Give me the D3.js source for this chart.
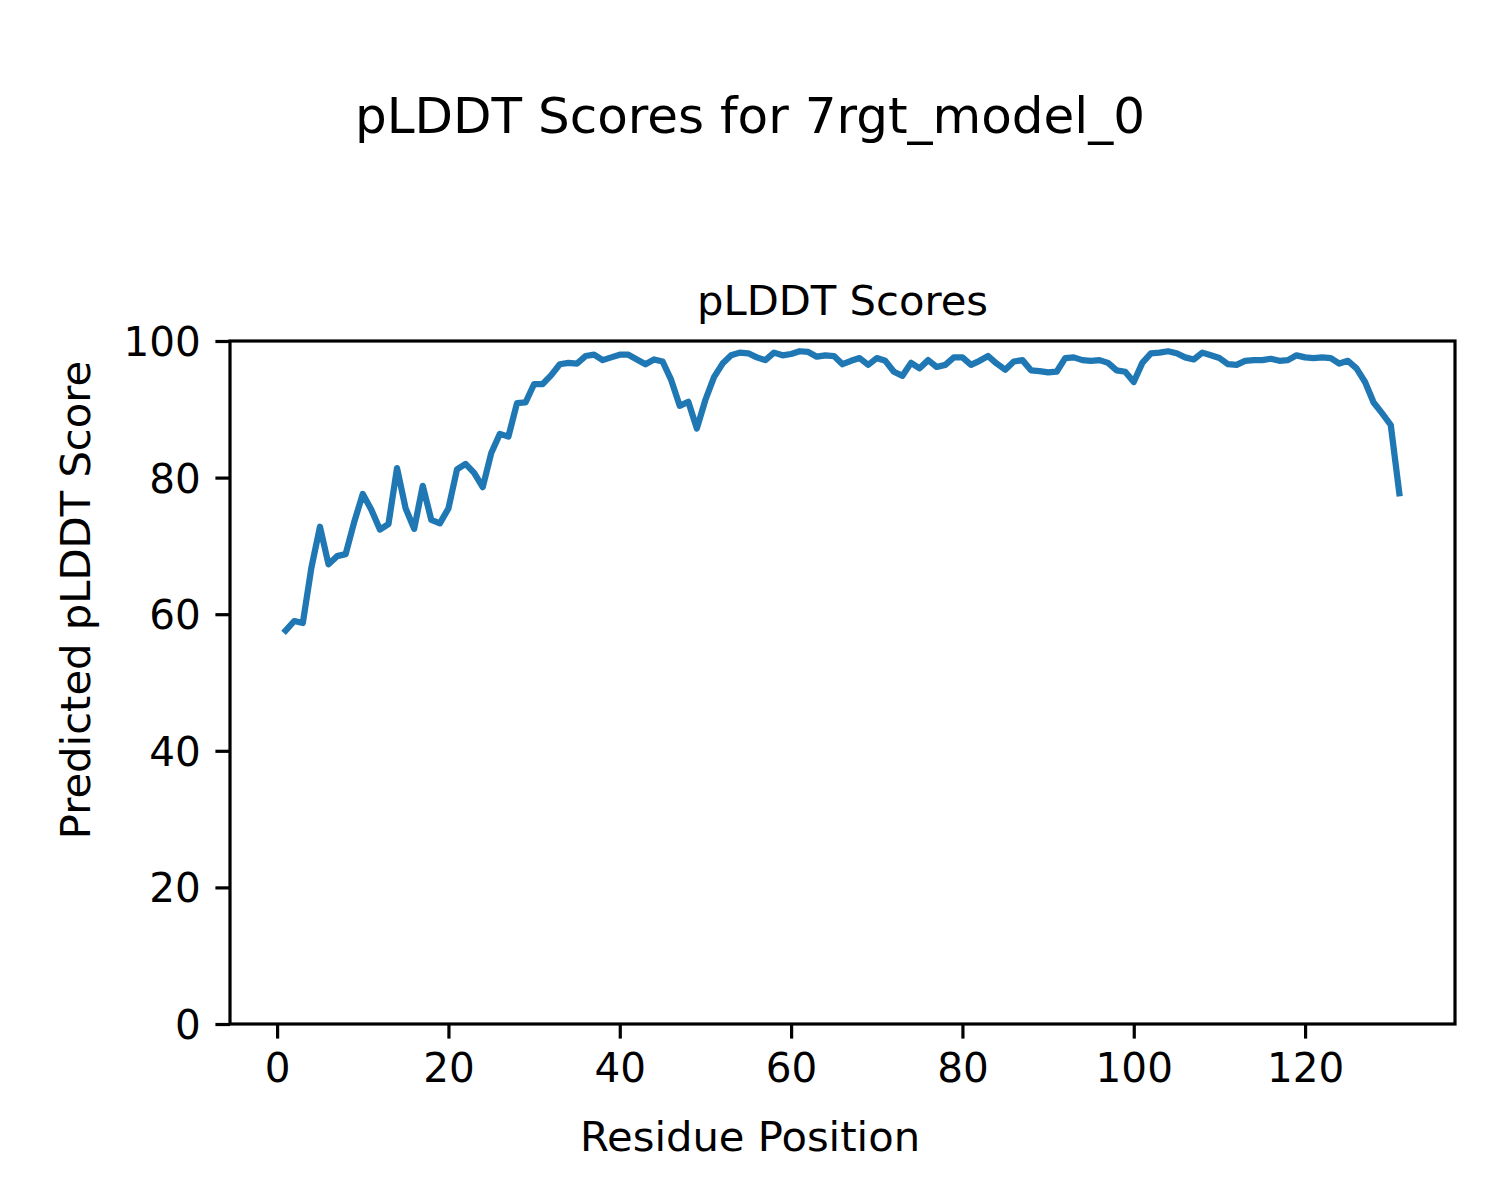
<!DOCTYPE html>
<html>
<head>
<meta charset="utf-8">
<script src="https://cdn.jsdelivr.net/npm/d3@7"></script>
<style>
  body { margin: 0; background: #fff; }
  text { font-family: "DejaVu Sans", sans-serif; fill: #000; }
</style>
</head>
<body>
<div id="chart"></div>
<script>
// pLDDT score per residue (residue position = index + 1)
var scores = [
  57.6, 59.0, 58.7, 66.8, 72.8, 67.3, 68.5, 68.8, 73.5, 77.6,
  75.3, 72.4, 73.2, 81.4, 75.5, 72.5, 78.8, 73.8, 73.3, 75.5,
  81.2, 82.0, 80.7, 78.6, 83.6, 86.4, 86.0, 90.9, 91.0, 93.7,
  93.7, 95.0, 96.6, 96.8, 96.7, 97.8, 98.0, 97.2, 97.6, 98.0,
  98.0, 97.3, 96.6, 97.3, 97.0, 94.3, 90.5, 91.1, 87.2, 91.4,
  94.7, 96.7, 97.9, 98.3, 98.2, 97.6, 97.2, 98.3, 97.9, 98.1,
  98.5, 98.4, 97.7, 97.9, 97.8, 96.6, 97.1, 97.5, 96.5, 97.5,
  97.1, 95.5, 94.9, 96.8, 96.0, 97.2, 96.2, 96.5, 97.6, 97.6,
  96.5, 97.1, 97.8, 96.7, 95.8, 97.0, 97.2, 95.7, 95.6, 95.4,
  95.5, 97.5, 97.6, 97.2, 97.1, 97.2, 96.8, 95.7, 95.5, 94.0,
  96.8, 98.2, 98.3, 98.5, 98.2, 97.6, 97.3, 98.3, 97.9, 97.5,
  96.6, 96.5, 97.1, 97.2, 97.2, 97.4, 97.1, 97.2, 97.9, 97.6,
  97.5, 97.6, 97.5, 96.7, 97.1, 96.0, 94.0, 91.0, 89.4, 87.7,
  77.7
];
var xTicks = [0, 20, 40, 60, 80, 100, 120];
var yTicks = [0, 20, 40, 60, 80, 100];

var figTitle = "pLDDT Scores for 7rgt_model_0";
var axTitle = "pLDDT Scores";
var xLabel = "Residue Position";
var yLabel = "Predicted pLDDT Score";

// Figure and axes box
var svgWidth = 1500;
var svgHeight = 1200;
var box = { left: 230, right: 1455, top: 341, bottom: 1024 };

var svg = d3.select("#chart")
    .append("svg")
    .attr("width", svgWidth)
    .attr("height", svgHeight);

var data = scores.map((s, i) => ({ pos: i + 1, score: s }));

// matplotlib-style 5% margin on x
var n = scores.length;
var pad = (n - 1) * 0.05;
var xScale = d3.scaleLinear()
    .domain([1 - pad, n + pad])
    .range([box.left, box.right]);
var yScale = d3.scaleLinear()
    .domain([0, 100])
    .range([box.bottom, box.top]);

var tickLen = 14.6;
var tickPad = 14.6;

// Axes
var bottomAxis = d3.axisBottom(xScale)
    .tickValues(xTicks)
    .tickSize(tickLen)
    .tickPadding(tickPad)
    .tickSizeOuter(0);
var leftAxis = d3.axisLeft(yScale)
    .tickValues(yTicks)
    .tickSize(tickLen)
    .tickPadding(tickPad)
    .tickSizeOuter(0);

var gx = svg.append("g")
    .attr("transform", `translate(0, ${box.bottom})`)
    .call(bottomAxis);
var gy = svg.append("g")
    .attr("transform", `translate(${box.left}, 0)`)
    .call(leftAxis);

[gx, gy].forEach(function(g) {
    g.select(".domain").remove();
    g.selectAll(".tick line").attr("stroke", "#000").attr("stroke-width", 3.2);
    g.selectAll(".tick text")
        .style("font-family", "DejaVu Sans")
        .style("font-size", "40.5px")
        .attr("fill", "#000");
});
gx.selectAll(".tick text").attr("dy", "0.71em");
gy.selectAll(".tick text").attr("dy", "0.36em");

// Data line
var line = d3.line()
    .x(d => xScale(d.pos))
    .y(d => yScale(d.score));

svg.append("path")
    .datum(data)
    .attr("d", line)
    .attr("fill", "none")
    .attr("stroke", "#1f77b4")
    .attr("stroke-width", 6.25)
    .attr("stroke-linejoin", "round")
    .attr("stroke-linecap", "square");

// Frame
svg.append("rect")
    .attr("x", box.left)
    .attr("y", box.top)
    .attr("width", box.right - box.left)
    .attr("height", box.bottom - box.top)
    .attr("fill", "none")
    .attr("stroke", "#000")
    .attr("stroke-width", 3.2);

// Titles and labels
svg.append("text")
    .attr("x", svgWidth / 2)
    .attr("y", 133)
    .style("text-anchor", "middle")
    .style("font-size", "50px")
    .text(figTitle);

svg.append("text")
    .attr("x", (box.left + box.right) / 2)
    .attr("y", 315)
    .style("text-anchor", "middle")
    .style("font-size", "41.7px")
    .text(axTitle);

svg.append("text")
    .attr("x", svgWidth / 2)
    .attr("y", 1151)
    .style("text-anchor", "middle")
    .style("font-size", "41.7px")
    .text(xLabel);

svg.append("text")
    .attr("transform", `translate(90, ${svgHeight / 2}) rotate(-90)`)
    .style("text-anchor", "middle")
    .style("font-size", "41.7px")
    .text(yLabel);
</script>
</body>
</html>
